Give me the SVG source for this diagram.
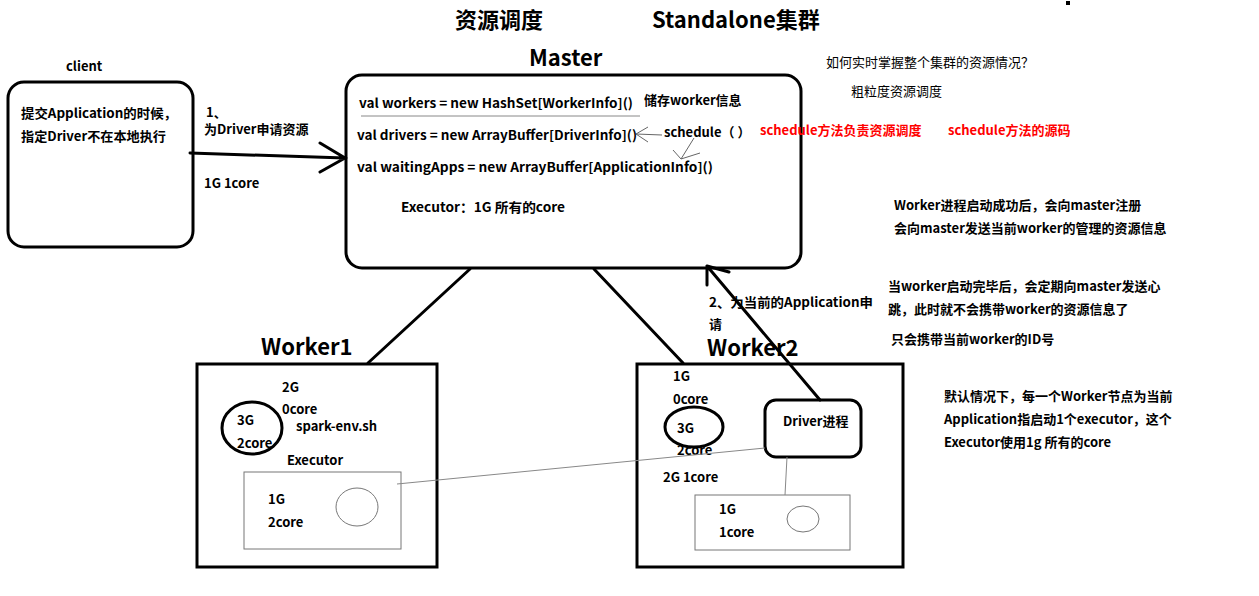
<svg xmlns="http://www.w3.org/2000/svg" width="1259" height="596" viewBox="0 0 1259 596">
<defs>
<style>
text{font-family:"Noto Sans CJK SC","Liberation Sans",sans-serif;font-size:13px;font-weight:bold;fill:#000}
.n{font-weight:normal}
.big{font-size:22px}
.red{fill:#ff0000}
.box{fill:none;stroke:#000;stroke-width:3}
.thin{fill:none;stroke:#777;stroke-width:1}
.con{fill:none;stroke:#000;stroke-width:3;stroke-linecap:round}
</style>
</defs>
<rect width="1259" height="596" fill="#fff"/>
<rect x="1066" y="1" width="4" height="4" fill="#000"/>
<g id="titles">
<text class="big" x="455" y="28">资源调度</text>
<text class="big" x="652" y="28">Standalone集群</text>
</g>
<g id="client">
<text x="66" y="71">client</text>
<rect class="box" x="8" y="82" width="185" height="165" rx="16"/>
<text x="21" y="118" textLength="156" lengthAdjust="spacingAndGlyphs">提交Application的时候，</text>
<text x="21" y="141" textLength="145" lengthAdjust="spacingAndGlyphs">指定Driver不在本地执行</text>
</g>
<g id="master">
<text class="big" x="529" y="66">Master</text>
<rect class="box" x="346" y="75" width="455" height="193" rx="16"/>
<text x="359" y="108" textLength="274" lengthAdjust="spacingAndGlyphs">val workers = new HashSet[WorkerInfo]()</text>
<line x1="361" y1="116" x2="640" y2="116" stroke="#888" stroke-width="1"/>
<text x="644" y="105">储存worker信息</text>
<text x="357" y="140" textLength="280" lengthAdjust="spacingAndGlyphs">val drivers = new ArrayBuffer[DriverInfo]()</text>
<text x="664" y="137">schedule（ ）</text>
<text x="357" y="172" textLength="356" lengthAdjust="spacingAndGlyphs">val waitingApps = new ArrayBuffer[ApplicationInfo]()</text>
<text x="401" y="212" textLength="164" lengthAdjust="spacingAndGlyphs">Executor：1G  所有的core</text>
</g>
<g id="notes">
<text class="red" x="760" y="135">schedule方法负责资源调度</text>
<text class="red" x="948" y="135">schedule方法的源码</text>
<text class="n" x="826" y="67">如何实时掌握整个集群的资源情况？</text>
<text class="n" x="851" y="96">粗粒度资源调度</text>
<text x="894" y="210">Worker进程启动成功后，会向master注册</text>
<text x="894" y="233">会向master发送当前worker的管理的资源信息</text>
<text x="888" y="291">当worker启动完毕后，会定期向master发送心</text>
<text x="888" y="314">跳，此时就不会携带worker的资源信息了</text>
<text x="891" y="344">只会携带当前worker的ID号</text>
<text x="944" y="401">默认情况下，每一个Worker节点为当前</text>
<text x="944" y="424">Application指启动1个executor，这个</text>
<text x="944" y="447">Executor使用1g 所有的core</text>
</g>
<g id="worker1">
<text class="big" x="261" y="355">Worker1</text>
<rect class="box" x="197" y="364" width="240" height="203"/>
<text x="282" y="392">2G</text>
<text x="282" y="414">0core</text>
<ellipse class="box" cx="252" cy="428" rx="30" ry="26"/>
<text x="237" y="425">3G</text>
<text x="237" y="448">2core</text>
<text x="296" y="431">spark-env.sh</text>
<text x="287" y="465">Executor</text>
<rect class="thin" x="244" y="472" width="157" height="77"/>
<text x="268" y="504">1G</text>
<text x="268" y="527">2core</text>
<ellipse class="thin" cx="357" cy="507" rx="21" ry="19"/>
</g>
<g id="worker2">
<text class="big" x="707" y="356">Worker2</text>
<rect class="box" x="637" y="364" width="266" height="203"/>
<text x="673" y="381">1G</text>
<text x="673" y="404">0core</text>
<ellipse class="box" cx="694" cy="427" rx="29" ry="20"/>
<text x="677" y="433">3G</text>
<text x="677" y="455">2core</text>
<text x="663" y="482">2G 1core</text>
<rect class="thin" x="695" y="495" width="155" height="55"/>
<text x="719" y="514">1G</text>
<text x="719" y="537">1core</text>
<ellipse class="thin" cx="803" cy="519" rx="16" ry="13"/>
</g>
<g id="driver">
<rect class="box" x="765" y="400" width="96" height="57" rx="11"/>
<text x="783" y="426">Driver进程</text>
</g>
<g id="connectors">
<path class="con" d="M190 153 L345 158 M320 143 L345 158 L320 172"/>
<text x="206" y="117">1、</text>
<text x="204" y="134">为Driver申请资源</text>
<text x="204" y="188">1G 1core</text>
<path class="con" d="M470 269 L368 363"/>
<path class="con" d="M594 269 L683 363"/>
<path class="con" d="M820 400 L707 266 M707 266 L707 285 M707 266 L729 272"/>
<text x="709" y="307" textLength="164" lengthAdjust="spacingAndGlyphs">2、为当前的Application申</text>
<text x="709" y="329">请</text>
<path fill="none" stroke="#666" stroke-width="1" d="M662 135 L636 134 M648 127 L636 134 L648 142"/>
<path fill="none" stroke="#666" stroke-width="1" d="M694 138 L681 159 M673 150 L681 159 L700 153"/>
<line x1="397" y1="484" x2="765" y2="448" stroke="#888" stroke-width="1"/>
<line x1="787" y1="457" x2="785" y2="495" stroke="#888" stroke-width="1"/>
</g>
</svg>
